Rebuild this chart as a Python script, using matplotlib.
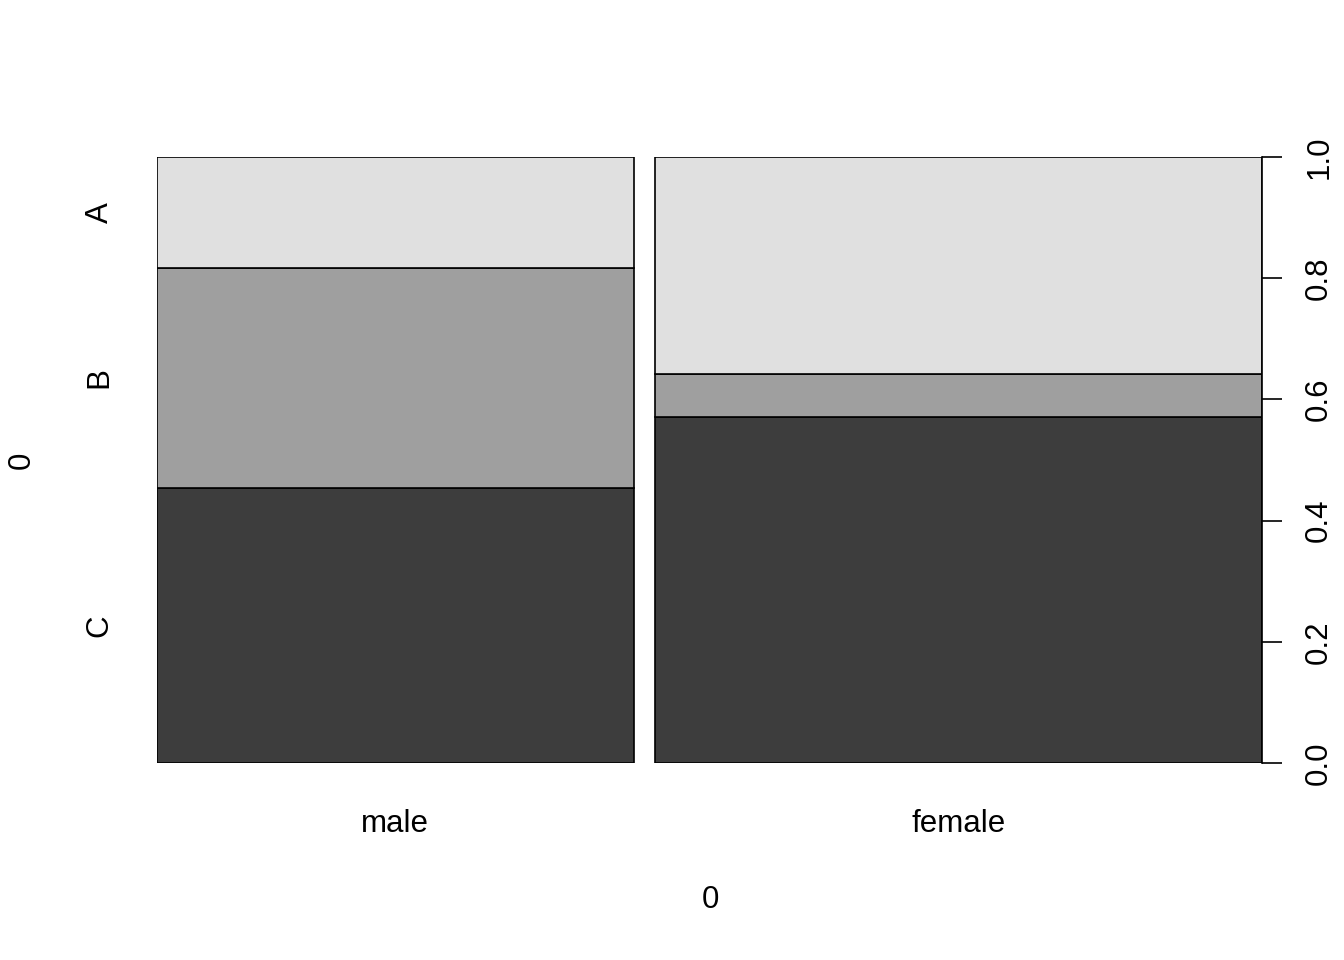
import matplotlib.pyplot as plt

plt.rcParams['font.family'] = ['Liberation Sans', 'DejaVu Sans']

# spineplot data: x groups with relative widths, stacked proportions per group
groups = ['male', 'female']
group_share = [0.44, 0.56]
levels = ['C', 'B', 'A']
props = {
    'male':   [0.454, 0.363, 0.183],
    'female': [0.571, 0.071, 0.358],
}
colors = ['#3d3d3d', '#9f9f9f', '#e0e0e0']
gap = 0.02
fs = 22.5

fig = plt.figure(figsize=(13.44, 9.6), dpi=100)
ax = fig.add_axes([157 / 1344, 1 - 763 / 960, 1105 / 1344, 606 / 960])

left = 0
centers = []
for g, w in zip(groups, group_share):
    bottom = 0
    for p, c in zip(props[g], colors):
        ax.bar(left, p, width=w, bottom=bottom, align='edge', color=c,
               edgecolor='black', linewidth=1.2)
        bottom += p
    centers.append(left + w / 2)
    left += w + gap

ax.set_xlim(0, sum(group_share) + gap)
ax.set_ylim(0, 1)
for s in ['top', 'bottom', 'left']:
    ax.spines[s].set_visible(False)
ax.spines['right'].set_bounds(0, 1)
ax.spines['right'].set_linewidth(1.2)

ax.set_xticks(centers)
ax.set_xticklabels(groups, fontsize=fs)
ax.tick_params(axis='x', length=0, pad=33)

ax.yaxis.tick_right()
ax.set_yticks([0, 0.2, 0.4, 0.6, 0.8, 1.0])
ax.set_yticklabels(['0.0', '0.2', '0.4', '0.6', '0.8', '1.0'],
                   rotation=90, va='center', fontsize=fs)
ax.tick_params(axis='y', length=14.4, width=1.2, pad=16)

# level labels on the left, centred on the first group's segments
first = props[groups[0]]
cum = 0
for lev, p in zip(levels, first):
    ax.text(-0.052, cum + p / 2, lev, rotation=90, ha='center', va='center',
            fontsize=fs, transform=ax.get_yaxis_transform())
    cum += p

fig.text(710 / 1344, 1 - 900 / 960, '0', ha='center', va='center', fontsize=fs)
fig.text(22 / 1344, 1 - 460 / 960, '0', ha='center', va='center',
         rotation=90, fontsize=fs)

fig.savefig('out.png', dpi=100)
